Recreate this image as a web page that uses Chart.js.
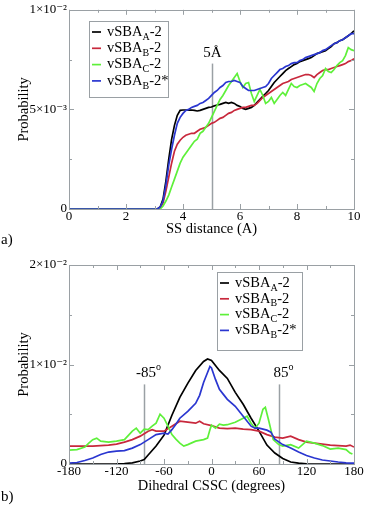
<!DOCTYPE html>
<html>
<head>
<meta charset="utf-8">
<script src="https://cdn.jsdelivr.net/npm/chart.js@4.4.1/dist/chart.umd.min.js"></script>
<style>
  body { margin: 0; background: #fff; }
  .panel { position: absolute; left: 0; }
  canvas { display: block; }
</style>
</head>
<body>
<div class="panel" style="top:0"><canvas id="chartA" width="369" height="250"></canvas></div>
<div class="panel" style="top:250px"><canvas id="chartB" width="369" height="257"></canvas></div>
<script>
// ---- data (probability in units of 1e-3) ----
const seriesNames = [["vSBA", "A", "-2"], ["vSBA", "B", "-2"], ["vSBA", "C", "-2"], ["vSBA", "B", "-2*"]];
const seriesColors = ["#000000", "#c8283c", "#5ef03a", "#2a36d0"];

// a) SS distance
const distX = [0, 3.0, 3.1, 3.2, 3.3, 3.4, 3.5, 3.6, 3.7, 3.8, 3.9, 4.0, 4.1, 4.2, 4.3, 4.4, 4.5, 4.6, 4.7, 4.8, 4.9,
  5.0, 5.1, 5.2, 5.3, 5.4, 5.5, 5.6, 5.7, 5.8, 5.9, 6.0, 6.1, 6.2, 6.3, 6.4, 6.5, 6.6, 6.7, 6.8, 6.9,
  7.0, 7.1, 7.2, 7.3, 7.4, 7.5, 7.6, 7.7, 7.8, 7.9, 8.0, 8.1, 8.2, 8.3, 8.4, 8.5, 8.6, 8.7, 8.8, 8.9,
  9.0, 9.1, 9.2, 9.3, 9.4, 9.5, 9.6, 9.7, 9.8, 9.9, 10.0];
const distA = [0, 0, 0, 0.1, 0.5, 1.4, 2.5, 3.5, 4.2, 4.7, 4.95, 4.97, 4.97, 4.96, 4.97, 4.95, 4.92, 4.95, 5.0, 5.05, 5.1,
  5.12, 5.18, 5.22, 5.25, 5.3, 5.35, 5.3, 5.35, 5.3, 5.2, 5.15, 5.05, 5.0, 5.05, 5.1, 5.2, 5.35, 5.5, 5.65, 5.8,
  5.95, 6.15, 6.35, 6.5, 6.65, 6.8, 6.95, 7.05, 7.15, 7.25, 7.3, 7.4, 7.45, 7.5, 7.55, 7.6, 7.7, 7.8, 7.85, 7.9,
  7.95, 8.05, 8.15, 8.3, 8.35, 8.45, 8.5, 8.6, 8.7, 8.8, 8.95];
const distB = [0, 0, 0, 0.05, 0.3, 0.9, 1.6, 2.3, 2.9, 3.25, 3.45, 3.6, 3.7, 3.75, 3.8, 3.8, 3.9, 4.0, 4.05, 4.1, 4.2,
  4.3, 4.35, 4.45, 4.55, 4.6, 4.7, 4.8, 4.85, 4.95, 5.0, 5.05, 5.1, 5.1, 5.15, 5.2, 5.2, 5.3, 5.45, 5.6, 5.7,
  5.8, 5.9, 6.0, 6.1, 6.2, 6.3, 6.35, 6.4, 6.5, 6.55, 6.6, 6.65, 6.7, 6.75, 6.75, 6.7, 6.6, 6.75, 6.85, 6.95,
  7.0, 7.0, 7.05, 7.1, 7.15, 7.2, 7.25, 7.3, 7.4, 7.45, 7.55];
const distC = [0, 0, 0, 0, 0.15, 0.4, 0.7, 1.1, 1.5, 1.9, 2.3, 2.6, 2.8, 3.0, 3.2, 3.4, 3.5, 3.8, 3.9, 4.1, 4.3,
  4.6, 4.9, 5.2, 5.5, 5.7, 5.95, 6.2, 6.4, 6.6, 6.8, 6.4, 6.1, 6.3, 6.35, 5.8, 5.4, 5.7, 6.0, 5.7, 5.3,
  5.4, 5.6, 5.3, 5.5, 5.7, 5.85, 5.7, 6.0, 6.3, 6.15, 6.1, 6.2, 6.25, 6.3, 6.2, 6.1, 5.9, 6.3, 6.55, 6.7,
  7.05, 6.9, 6.85, 7.0, 7.2, 7.35, 7.45, 7.7, 8.1, 8.0, 7.95];
const distBs = [0, 0, 0, 0.1, 0.4, 1.2, 2.2, 3.0, 3.7, 4.3, 4.6, 4.8, 4.95, 5.0, 5.1, 5.15, 5.2, 5.3, 5.35, 5.45, 5.55,
  5.7, 5.85, 5.95, 6.1, 6.2, 6.35, 6.4, 6.4, 6.45, 6.4, 6.35, 6.15, 6.05, 5.95, 5.95, 5.95, 6.0, 6.05, 6.1, 6.15,
  6.3, 6.55, 6.7, 6.85, 7.0, 7.05, 7.15, 7.2, 7.3, 7.35, 7.35, 7.45, 7.5, 7.6, 7.65, 7.7, 7.75, 7.8, 7.85, 7.95,
  8.0, 8.1, 8.2, 8.3, 8.35, 8.45, 8.5, 8.6, 8.7, 8.8, 8.8];

// b) dihedral CSSC
const dihAX = [-180, -150, -120, -110, -100, -90, -85, -80, -70, -60, -50, -40, -30, -20, -10, -5, 0, 10, 20, 30, 40, 50, 60, 70, 80, 90, 100, 110, 120, 150, 180];
const dihA = [0, 0, 0.02, 0.05, 0.12, 0.3, 0.45, 0.9, 1.8, 2.9, 4.9, 6.7, 8.1, 9.4, 10.3, 10.55, 10.4, 9.4, 8.6, 7.2, 6.0, 4.6, 3.3, 1.9, 1.1, 0.55, 0.2, 0.08, 0.02, 0, 0];
const dihBX = [-180, -170, -160, -150, -140, -130, -120, -110, -100, -90, -80, -75, -70, -60, -50, -40, -30, -20, -15, -10, 0, 10, 20, 30, 40, 50, 60, 70, 80, 90, 100, 110, 120, 130, 140, 150, 160, 170, 175, 180];
const dihB = [1.8, 1.8, 1.8, 1.8, 1.85, 1.9, 2.0, 2.2, 2.45, 2.8, 3.3, 3.45, 3.3, 3.3, 3.8, 4.3, 4.2, 4.1, 4.3, 4.05, 3.85, 3.6, 3.55, 3.6, 3.5, 3.45, 3.3, 2.95, 2.7, 2.6, 2.8, 2.45, 2.2, 2.1, 2.0, 1.9, 1.85, 1.8, 1.9, 1.7];
const dihCX = [-180, -170, -160, -155, -150, -145, -140, -130, -120, -110, -100, -95, -90, -85, -80, -75, -70, -65, -60, -55, -50, -45, -40, -35, -30, -20, -10, -5, -2, 0, 5, 10, 15, 20, 30, 40, 45, 50, 55, 60, 65, 68, 72, 78, 85, 90, 100, 110, 115, 120, 130, 140, 150, 160, 170, 175, 178];
const dihC = [1.4, 1.45, 1.7, 2.1, 2.45, 2.6, 2.3, 2.2, 2.3, 2.45, 3.3, 3.6, 3.1, 3.5, 3.45, 3.8, 4.1, 5.0, 4.6, 3.8, 2.95, 2.5, 2.1, 1.8, 1.95, 2.3, 2.45, 2.6, 3.45, 3.9, 3.6, 4.0, 3.9, 3.95, 4.2, 4.6, 4.8, 4.1, 3.6, 4.1, 5.5, 5.7, 4.45, 2.45, 1.95, 1.8, 1.95, 1.6, 1.95, 2.3, 2.1, 1.85, 1.5, 1.6, 1.45, 1.1, 1.0];
const dihBsX = [-180, -170, -160, -150, -140, -130, -120, -110, -100, -90, -80, -70, -60, -55, -50, -45, -40, -30, -20, -15, -10, -5, -2, 0, 5, 10, 15, 20, 30, 40, 50, 55, 60, 70, 75, 80, 90, 100, 110, 120, 130, 140, 150, 160, 170, 180];
const dihBs = [0.1, 0.15, 0.35, 0.6, 0.95, 1.2, 1.3, 1.35, 1.6, 1.95, 2.45, 2.95, 3.1, 3.0, 3.45, 4.0, 4.6, 5.3, 6.1, 6.9, 8.2, 9.2, 9.8, 9.65, 8.5, 7.5, 7.0, 6.5, 5.8, 4.8, 3.8, 3.6, 3.6, 3.4, 3.2, 2.5, 1.95, 1.6, 1.2, 0.85, 0.6, 0.4, 0.3, 0.2, 0.12, 0.08];

// ticks
const yTicksA = [0, 0.005, 0.01];
const yTickLabelsA = ["0", "5×10⁻³", "1×10⁻²"];
const yTicksB = [0, 0.01, 0.02];
const yTickLabelsB = ["0", "1×10⁻²", "2×10⁻²"];

// marker lines
const marksA = [5], markTopA = 0.0073, markLabelsA = [["5Å", ""]];
const marksB = [-85, 85], markTopB = 0.008, markLabelsB = [["-85", "o"], ["85", "o"]];

const SERIF = "'Liberation Serif', 'DejaVu Serif', serif";
const GRAY = "#9aa0a4";

function pts(xs, ys) {
  return xs.map((x, i) => ({ x: x, y: ys[i] / 1000 }));
}

function makeSets(list) {
  return list.map((d, i) => ({
    label: seriesNames[i].join(""),
    data: d,
    borderColor: seriesColors[i],
    borderWidth: 1.7,
    pointRadius: 0,
    fill: false,
    tension: 0,
    order: 4 - i,
  }));
}

// frame, ticks, marker lines, legend, panel tag
const decoPlugin = {
  id: "deco",
  beforeDatasetsDraw(chart, args, o) {
    const { ctx, scales: { x, y } } = chart;
    ctx.save();
    ctx.strokeStyle = GRAY;
    ctx.lineWidth = 1.5;
    o.marks.forEach((m, i) => {
      const px = Math.round(x.getPixelForValue(m)) + 0.5;
      ctx.beginPath();
      ctx.moveTo(px, y.getPixelForValue(0));
      ctx.lineTo(px, y.getPixelForValue(o.markTop));
      ctx.stroke();
      const lab = o.markLabels[i];
      ctx.font = "15px " + SERIF;
      ctx.fillStyle = "#000";
      ctx.textBaseline = "middle";
      const w1 = ctx.measureText(lab[0]).width;
      ctx.font = "10px " + SERIF;
      const w2 = lab[1] ? ctx.measureText(lab[1]).width : 0;
      const lx = px - (w1 + w2) / 2 + o.labelShift;
      const ly = y.getPixelForValue(o.markTop) - 11;
      ctx.font = "15px " + SERIF;
      ctx.fillText(lab[0], lx, ly);
      if (lab[1]) {
        ctx.font = "10px " + SERIF;
        ctx.fillText(lab[1], lx + w1, ly - 6);
      }
    });
    ctx.restore();
  },
  afterDraw(chart, args, o) {
    const { ctx, chartArea: a, scales: { x, y } } = chart;
    ctx.save();
    ctx.strokeStyle = GRAY;
    ctx.lineWidth = 1;
    ctx.strokeRect(Math.round(a.left) + 0.5, Math.round(a.top) + 0.5, Math.round(a.width), Math.round(a.height));
    ctx.beginPath();
    for (let v = x.min; v <= x.max + 1e-9; v += o.xMinor) {
      const px = Math.round(x.getPixelForValue(v)) + 0.5;
      const len = Math.abs((v - x.min) / o.xMajor - Math.round((v - x.min) / o.xMajor)) < 1e-6 ? 5 : 3;
      ctx.moveTo(px, a.bottom); ctx.lineTo(px, a.bottom - len);
      ctx.moveTo(px, a.top); ctx.lineTo(px, a.top + len);
    }
    for (let v = y.min; v <= y.max + 1e-9; v += o.yMinor) {
      const py = Math.round(y.getPixelForValue(v)) + 0.5;
      const len = Math.abs(v / o.yMajor - Math.round(v / o.yMajor)) < 1e-6 ? 5 : 3;
      ctx.moveTo(a.left, py); ctx.lineTo(a.left + len, py);
      ctx.moveTo(a.right, py); ctx.lineTo(a.right - len, py);
    }
    ctx.stroke();

    // legend
    const L = o.legend;
    ctx.strokeStyle = GRAY;
    ctx.fillStyle = "#fff";
    ctx.fillRect(L.x, L.y, L.w, L.h);
    ctx.strokeRect(L.x + 0.5, L.y + 0.5, L.w, L.h);
    ctx.textBaseline = "middle";
    seriesNames.forEach((n, i) => {
      const ry = L.y + L.first + i * L.step;
      ctx.strokeStyle = seriesColors[i];
      ctx.lineWidth = 1.7;
      ctx.beginPath();
      ctx.moveTo(L.x + 3, ry); ctx.lineTo(L.x + 12, ry);
      ctx.stroke();
      ctx.fillStyle = "#000";
      let tx = L.x + 18;
      ctx.font = "14.5px " + SERIF;
      ctx.fillText(n[0], tx, ry);
      tx += ctx.measureText(n[0]).width;
      ctx.font = "10px " + SERIF;
      ctx.fillText(n[1], tx, ry + 5);
      tx += ctx.measureText(n[1]).width;
      ctx.font = "14.5px " + SERIF;
      ctx.fillText(n[2], tx, ry);
    });

    ctx.font = "15px " + SERIF;
    ctx.fillStyle = "#000";
    ctx.fillText(o.tag, 1, o.tagY);
    ctx.restore();
  }
};

function makeChart(id, sets, cfg) {
  return new Chart(document.getElementById(id), {
    type: "line",
    data: { datasets: sets },
    plugins: [decoPlugin],
    options: {
      responsive: false,
      animation: false,
      devicePixelRatio: 1,
      layout: { padding: { top: cfg.top, right: 15, left: 0, bottom: 0 } },
      plugins: {
        legend: { display: false },
        tooltip: { enabled: false },
        deco: cfg.deco,
      },
      scales: {
        x: {
          type: "linear",
          min: cfg.xMin, max: cfg.xMax,
          grid: { display: false, drawTicks: false },
          border: { display: false },
          ticks: { stepSize: cfg.xStep, autoSkip: false, maxRotation: 0, padding: 0, color: "#000", font: { family: SERIF, size: 13 } },
          title: { display: true, text: cfg.xTitle, color: "#000", font: { family: SERIF, size: 14.5 }, padding: { top: 0, bottom: 12 } },
          afterFit: s => { s.height = cfg.xHeight; },
        },
        y: {
          min: 0, max: cfg.yTicks[cfg.yTicks.length - 1],
          grid: { display: false, drawTicks: false },
          border: { display: false },
          afterBuildTicks: s => { s.ticks = cfg.yTicks.map(v => ({ value: v })); },
          ticks: { autoSkip: false, padding: 2, color: "#000", font: { family: SERIF, size: 13 }, callback: (v, i) => cfg.yLabels[i] },
          title: { display: true, text: "Probability", color: "#000", font: { family: SERIF, size: 14.5 }, padding: { top: 15, bottom: 0 } },
          afterFit: s => { s.width = 69; },
        },
      },
    },
  });
}

makeChart("chartA", makeSets([pts(distX, distA), pts(distX, distB), pts(distX, distC), pts(distX, distBs)]), {
  top: 9, xMin: 0, xMax: 10, xStep: 2, xHeight: 41, xTitle: "SS distance (A)",
  yTicks: yTicksA, yLabels: yTickLabelsA,
  deco: {
    xMajor: 2, xMinor: 1, yMajor: 0.005, yMinor: 0.0025,
    marks: marksA, markTop: markTopA, markLabels: markLabelsA, labelShift: 0,
    legend: { x: 89, y: 21, w: 79, h: 76, first: 11, step: 16.3 },
    tag: "a)", tagY: 240,
  },
});

makeChart("chartB", makeSets([pts(dihAX, dihA), pts(dihBX, dihB), pts(dihCX, dihC), pts(dihBsX, dihBs)]), {
  top: 15, xMin: -180, xMax: 180, xStep: 60, xHeight: 43, xTitle: "Dihedral CSSC (degrees)",
  yTicks: yTicksB, yLabels: yTickLabelsB,
  deco: {
    xMajor: 60, xMinor: 30, yMajor: 0.01, yMinor: 0.005,
    marks: marksB, markTop: markTopB, markLabels: markLabelsB, labelShift: 4,
    legend: { x: 217, y: 22, w: 85, h: 78, first: 11, step: 15.8 },
    tag: "b)", tagY: 247,
  },
});
</script>
</body>
</html>
